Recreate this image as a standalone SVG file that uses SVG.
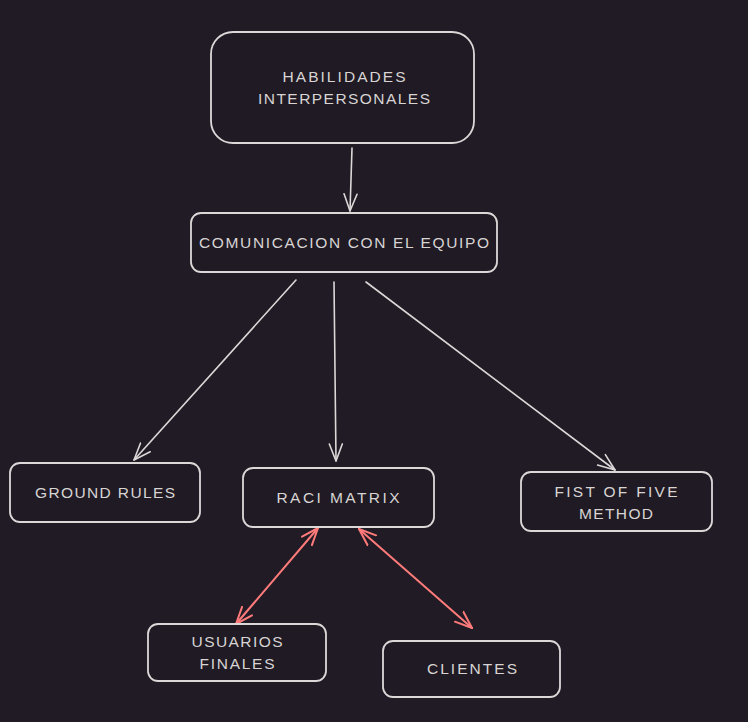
<svg xmlns="http://www.w3.org/2000/svg" width="748" height="722" viewBox="0 0 748 722">
<defs>
<style>
.node rect{fill:#1f1a23;stroke:#dcd8d8;stroke-width:1.8}
.node text{fill:#d8d4d4;font-family:"Liberation Sans",Arial,sans-serif;font-size:15.5px;text-anchor:middle;dominant-baseline:central}
.edge{fill:none;stroke:#dcd8d8;stroke-width:1.6;stroke-linecap:round}
.edge.red{stroke:#ff7b7b;stroke-width:2}
</style>
<marker id="ah" viewBox="0 0 20 20" refX="18" refY="10" markerWidth="20" markerHeight="20" markerUnits="userSpaceOnUse" orient="auto-start-reverse">
<path d="M1,3.5 L18,10 L1,16.5" fill="none" stroke="#dcd8d8" stroke-width="1.6" stroke-linecap="round" stroke-linejoin="round"/>
</marker>
<marker id="ahr" viewBox="0 0 20 20" refX="18" refY="10" markerWidth="20" markerHeight="20" markerUnits="userSpaceOnUse" orient="auto-start-reverse">
<path d="M1,3.5 L18,10 L1,16.5" fill="none" stroke="#ff7b7b" stroke-width="2" stroke-linecap="round" stroke-linejoin="round"/>
</marker>
</defs>
<rect width="748" height="722" fill="#201b24"/>
<g id="connectors">
<path class="edge" d="M352,148 L350,211" marker-end="url(#ah)"/>
<path class="edge" d="M296,280 L134,460" marker-end="url(#ah)"/>
<path class="edge" d="M334,282 L336,461" marker-end="url(#ah)"/>
<path class="edge" d="M366,282 L615,470" marker-end="url(#ah)"/>
<path class="edge red" d="M318,528 L236,624" marker-start="url(#ahr)" marker-end="url(#ahr)"/>
<path class="edge red" d="M359,529 L472,628" marker-start="url(#ahr)" marker-end="url(#ahr)"/>
</g>
<g id="n-habilidades" class="node">
<rect x="211" y="32" width="263" height="111" rx="22"/>
<text x="344" y="76" textLength="123" lengthAdjust="spacing">HABILIDADES</text>
<text x="344" y="98" textLength="172" lengthAdjust="spacing">INTERPERSONALES</text>
</g>
<g id="n-comunicacion" class="node">
<rect x="191" y="213" width="306" height="59" rx="10"/>
<text x="344" y="242" textLength="290" lengthAdjust="spacing">COMUNICACION CON EL EQUIPO</text>
</g>
<g id="n-ground" class="node">
<rect x="10" y="463" width="190" height="59" rx="10"/>
<text x="105" y="492" textLength="140" lengthAdjust="spacing">GROUND RULES</text>
</g>
<g id="n-raci" class="node">
<rect x="243" y="468" width="191" height="59" rx="10"/>
<text x="338" y="497" textLength="123" lengthAdjust="spacing">RACI MATRIX</text>
</g>
<g id="n-fist" class="node">
<rect x="521" y="472" width="191" height="59" rx="10"/>
<text x="616" y="491" textLength="123" lengthAdjust="spacing">FIST OF FIVE</text>
<text x="616" y="513" textLength="74" lengthAdjust="spacing">METHOD</text>
</g>
<g id="n-usuarios" class="node">
<rect x="148" y="624" width="178" height="57" rx="10"/>
<text x="237" y="641" textLength="91" lengthAdjust="spacing">USUARIOS</text>
<text x="237" y="663" textLength="75" lengthAdjust="spacing">FINALES</text>
</g>
<g id="n-clientes" class="node">
<rect x="383" y="641" width="177" height="56" rx="10"/>
<text x="472" y="668" textLength="90" lengthAdjust="spacing">CLIENTES</text>
</g>
</svg>
